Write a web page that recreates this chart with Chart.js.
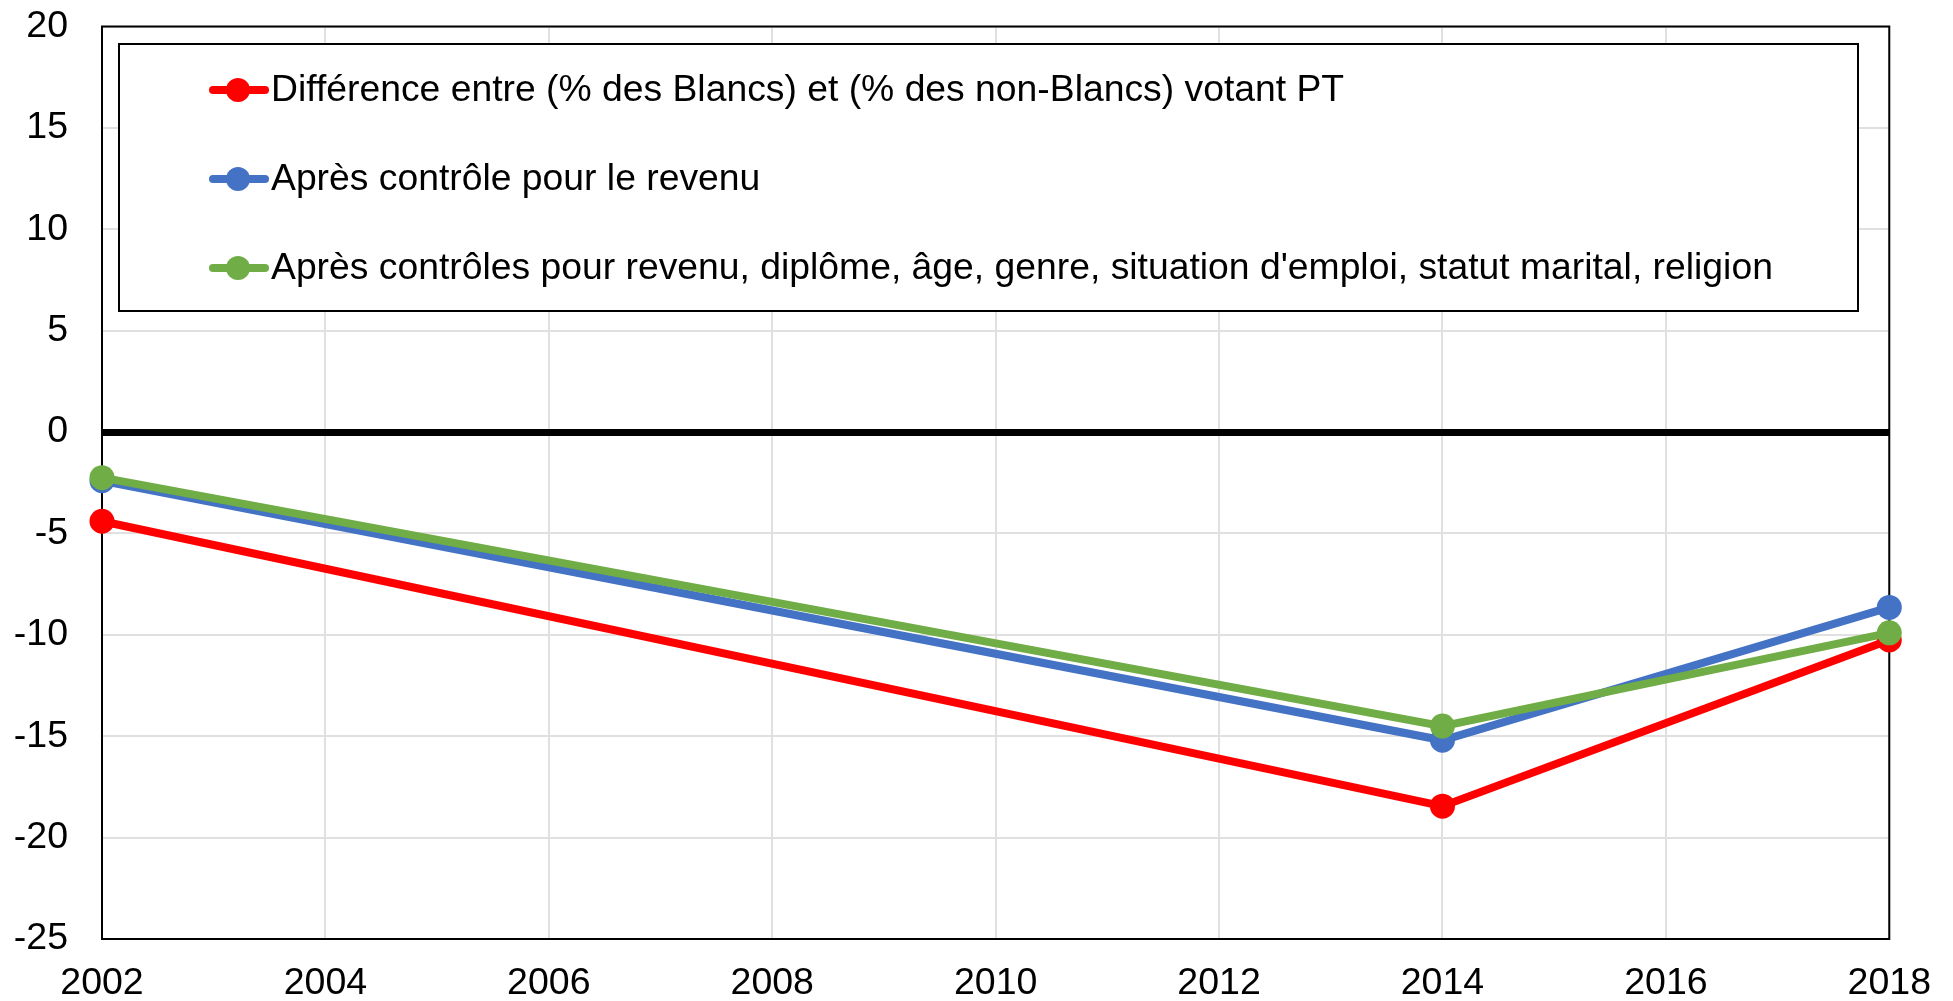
<!DOCTYPE html>
<html>
<head>
<meta charset="utf-8">
<script src="https://cdn.jsdelivr.net/npm/chart.js@4/dist/chart.umd.min.js"></script>
<style>
  html, body { margin: 0; padding: 0; background: #fff; }
  #wrap { width: 1953px; height: 1001px; }
</style>
</head>
<body>
<div id="wrap"><canvas id="voteChart" width="1953" height="1001"></canvas></div>
<script>
const years = [2002, 2014, 2018];
const ecartBrut = [-4.4, -18.45, -10.25];
const apresRevenu = [-2.4, -15.2, -8.65];
const apresControles = [-2.25, -14.5, -9.9];

const seriesLabels = [
	'Différence entre (% des Blancs) et (% des non-Blancs) votant PT',
	'Après contrôle pour le revenu',
	"Après contrôles pour revenu, diplôme, âge, genre, situation d'emploi, statut marital, religion"
];
const seriesColors = ['#FF0000', '#4472C4', '#70AD47'];

const FONT = '"Liberation Sans", Arial, sans-serif';

function pts(vals) { return years.map((y, i) => ({ x: y, y: vals[i] })); }

function mkDataset(i, vals) {
	return {
		label: seriesLabels[i],
		data: pts(vals),
		borderColor: seriesColors[i],
		backgroundColor: seriesColors[i],
		pointBackgroundColor: seriesColors[i],
		pointBorderWidth: 0,
		pointRadius: 12.5,
		borderWidth: 8,
		tension: 0,
		clip: false,
		order: 3 - i   // green on top, red underneath
	};
}

/* frame around plot area */
const framePlugin = {
	id: 'frame',
	beforeDatasetsDraw(chart) {
		const a = chart.chartArea, c = chart.ctx;
		c.save();
		c.strokeStyle = '#000';
		c.lineWidth = 2;
		c.strokeRect(a.left, a.top, a.right - a.left, a.bottom - a.top);
		c.restore();
	}
};

/* boxed legend inside the plot */
const boxLegend = {
	id: 'boxLegend',
	afterDatasetsDraw(chart) {
		const c = chart.ctx;
		const bx = 119, by = 44, bw = 1858 - 119, bh = 311 - 44;
		c.save();
		c.fillStyle = '#fff';
		c.fillRect(bx, by, bw, bh);
		c.strokeStyle = '#000';
		c.lineWidth = 2;
		c.strokeRect(bx, by, bw, bh);
		const rows = [90, 179, 268];
		c.font = '37.3px ' + FONT;
		c.textBaseline = 'middle';
		c.textAlign = 'left';
		seriesLabels.forEach((lab, i) => {
			const y = rows[i];
			c.strokeStyle = seriesColors[i];
			c.lineWidth = 8;
			c.lineCap = 'round';
			c.beginPath(); c.moveTo(213, y); c.lineTo(265, y); c.stroke();
			c.fillStyle = seriesColors[i];
			c.beginPath(); c.arc(238, y, 12, 0, Math.PI * 2); c.fill();
			c.fillStyle = '#000';
			c.fillText(lab, 271, y + 1);
		});
		c.restore();
	}
};

const chart = new Chart(document.getElementById('voteChart').getContext('2d'), {
	type: 'line',
	data: {
		datasets: [mkDataset(0, ecartBrut), mkDataset(1, apresRevenu), mkDataset(2, apresControles)]
	},
	options: {
		responsive: false,
		animation: false,
		layout: { padding: { left: 0, top: 24, right: 63, bottom: 0 } },
		plugins: { legend: { display: false }, tooltip: { enabled: false } },
		scales: {
			x: {
				type: 'linear',
				min: 2002, max: 2018,
				afterFit(s) { s.height = 62; },
				ticks: {
					stepSize: 2, color: '#000', font: { family: FONT, size: 37.5 }, padding: 22, maxRotation: 0,
					callback: v => String(v)
				},
				grid: { color: '#e0e0e0', lineWidth: 2, drawTicks: false },
				border: { display: false }
			},
			y: {
				min: -25, max: 20,
				afterFit(s) { s.width = 102; },
				ticks: { stepSize: 5, color: '#000', font: { family: FONT, size: 37.5 }, padding: 4 },
				grid: {
					drawTicks: true,
					tickLength: 30,
					tickColor: 'rgba(0,0,0,0)',
					color: ctx => ctx.tick && ctx.tick.value === 0 ? '#000' : '#e0e0e0',
					lineWidth: ctx => ctx.tick && ctx.tick.value === 0 ? 7 : 2
				},
				border: { display: false }
			}
		}
	},
	plugins: [framePlugin, boxLegend]
});
</script>
</body>
</html>
